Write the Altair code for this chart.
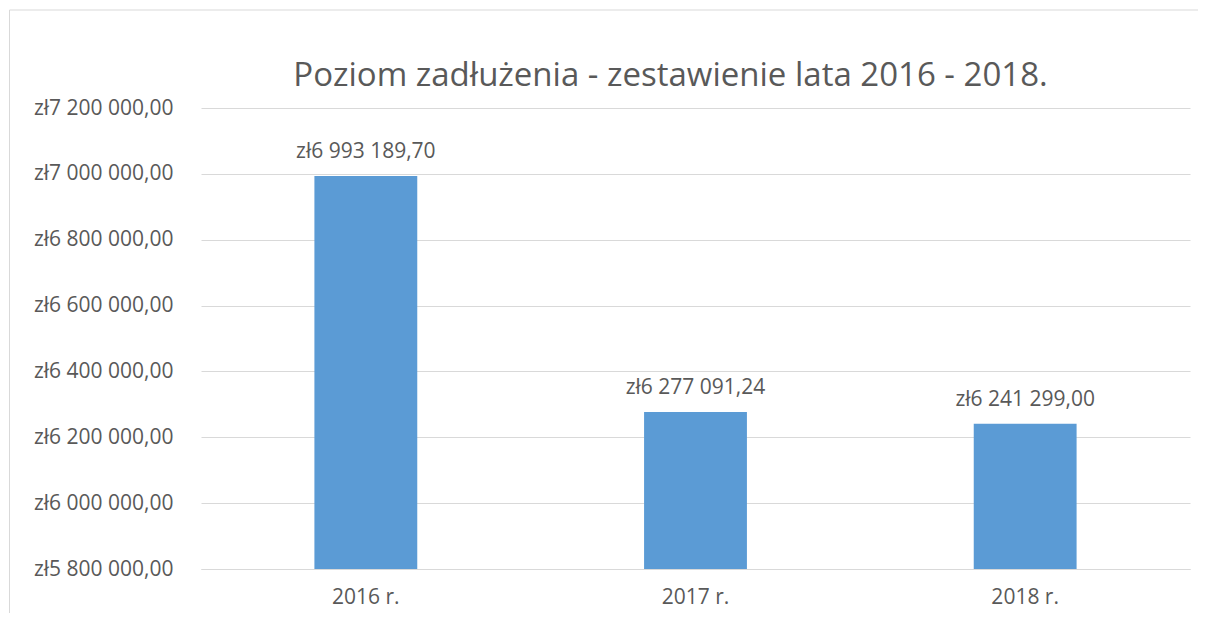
import altair as alt
import pandas as pd

years = ["2016 r.", "2017 r.", "2018 r."]
debt = [6993189.70, 6277091.24, 6241299.00]
y_ticks = [5800000, 6000000, 6200000, 6400000, 6600000, 6800000, 7000000, 7200000]
title_text = ["Poziom zadłużenia - zestawienie lata 2016 - 2018."]

df = pd.DataFrame({"rok": years, "zadluzenie": debt})

FONT = "Open Sans"
TXT = "#595959"
GRID = "#D9D9D9"
BAR = "#5B9BD5"

x_enc = alt.X(
    "rok:N",
    sort=years,
    title=None,
    scale=alt.Scale(paddingInner=0.688, paddingOuter=0.344),
    axis=alt.Axis(
        labelAngle=0, ticks=False, domain=True, domainColor=GRID, domainWidth=1,
        grid=False,
        labelFont=FONT, labelFontSize=21, labelColor=TXT, labelPadding=17,
    ),
)
y_enc = alt.Y(
    "zadluzenie:Q",
    title=None,
    scale=alt.Scale(domain=[5800000, 7200000], zero=False, nice=False),
    axis=alt.Axis(
        values=y_ticks, format="$,.2f", ticks=False, domain=False,
        grid=True, gridColor=GRID, gridWidth=1,
        labelFont=FONT, labelFontSize=21, labelColor=TXT, labelPadding=28,
    ),
)

base = alt.Chart(df)
bars = base.mark_bar(color=BAR, clip=True).encode(x=x_enc, y=y_enc)
labels = base.mark_text(
    font=FONT, fontSize=21, color=TXT, baseline="alphabetic", dy=-18
).encode(x=x_enc, y=y_enc, text=alt.Text("zadluzenie:Q", format="$,.2f"))

title_df = pd.DataFrame({"t": title_text})
title = alt.Chart(title_df).mark_text(
    font=FONT, fontSize=33, color=TXT, align="center", baseline="alphabetic"
).encode(x=alt.value(469.5), y=alt.value(-22), text="t:N")

frame_df = pd.DataFrame({"k": [0]})
frame_top = alt.Chart(frame_df).mark_rule(color=GRID, strokeWidth=1).encode(
    x=alt.value(-191.5), x2=alt.value(1010), y=alt.value(-98)
)
frame_left = alt.Chart(frame_df).mark_rule(color=GRID, strokeWidth=1).encode(
    x=alt.value(-191.5), y=alt.value(-98), y2=alt.value(520)
)

chart = (
    alt.layer(bars, labels, title, frame_top, frame_left)
    .properties(
        width=989,
        height=461,
        autosize=alt.AutoSizeParams(type="none"),
        padding={"left": 193, "top": 100, "right": 8, "bottom": 44},
    )
    .configure(
        locale={
            "number": {
                "decimal": ",",
                "thousands": "\u00a0",
                "grouping": [3],
                "currency": ["zł", ""],
            }
        }
    )
    .configure_view(stroke="transparent", strokeWidth=0)
)

chart.save("out.html", embed_options={"renderer": "svg", "actions": False})
